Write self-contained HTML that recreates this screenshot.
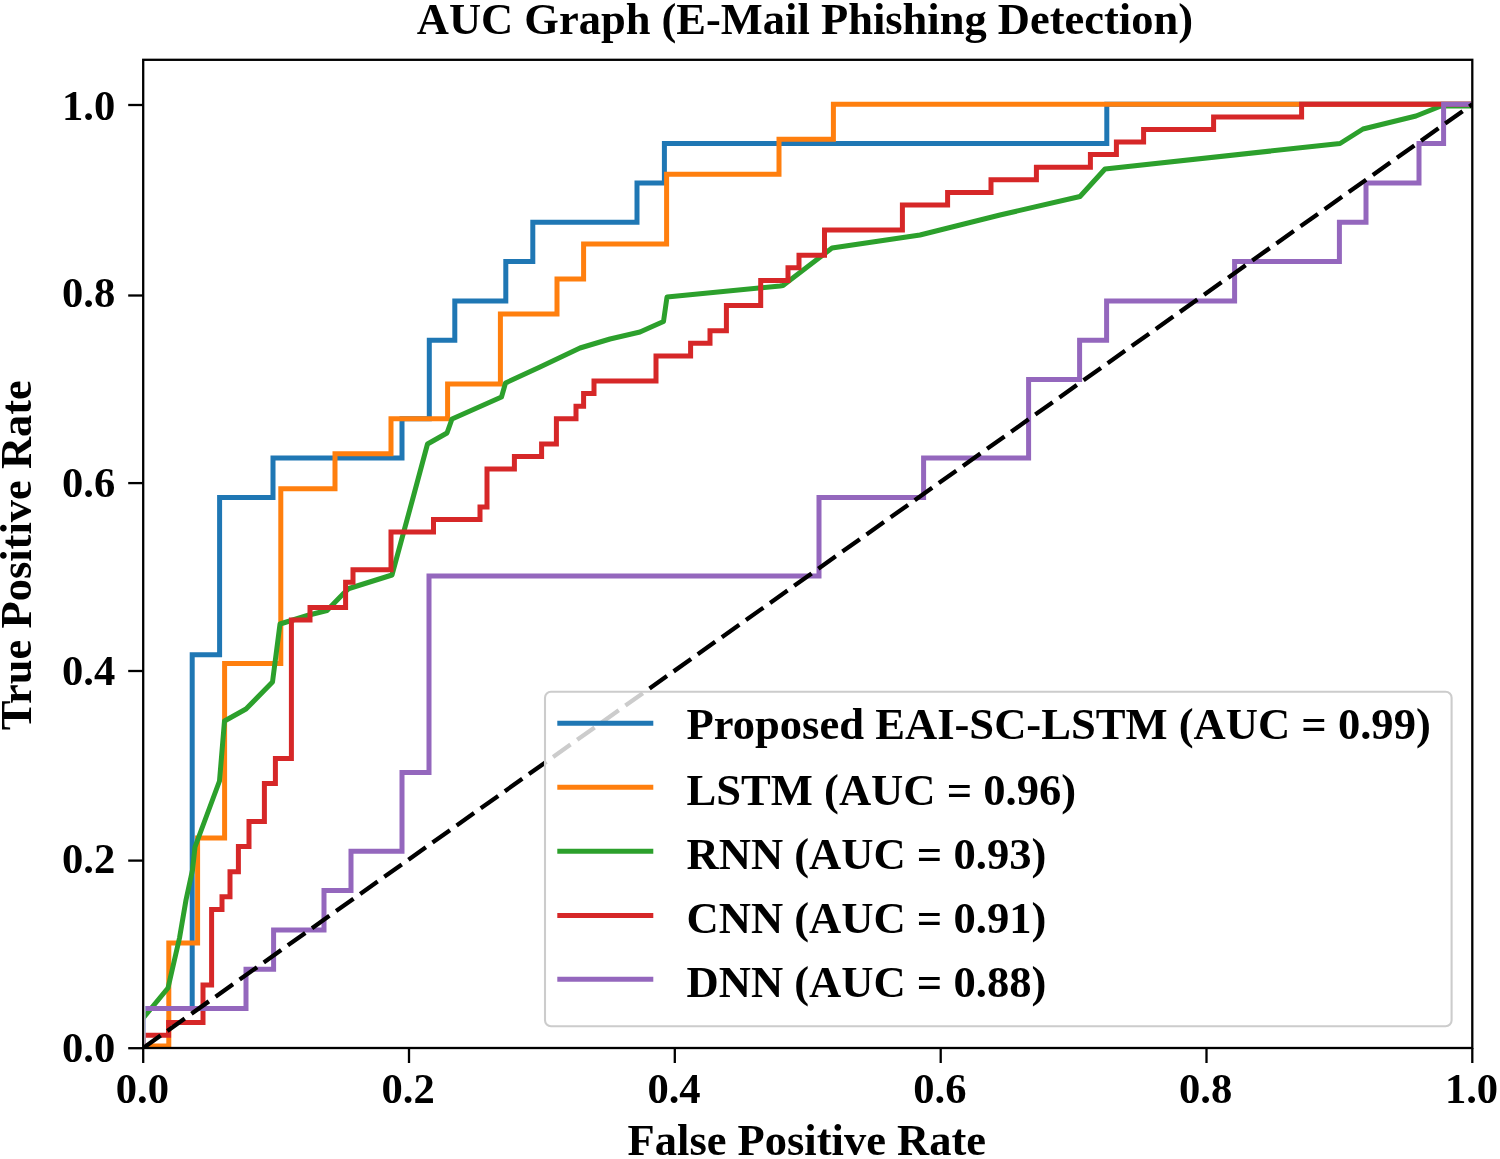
<!DOCTYPE html>
<html lang="en"><head><meta charset="utf-8"><title>AUC Graph (E-Mail Phishing Detection)</title>
<style>html,body{margin:0;padding:0;background:#fff}svg{display:block}</style></head>
<body>
<svg width="1500" height="1159" viewBox="0 0 1500 1159">
<rect width="1500" height="1159" fill="#fff"/>
<defs><clipPath id="ax"><rect x="145.6" y="59.8" width="1325.5" height="988.2"/></clipPath><clipPath id="ax0"><rect x="143.2" y="59.8" width="1329.1" height="988.2"/></clipPath></defs>
<g clip-path="url(#ax)" fill="none" stroke-width="5.0" stroke-linejoin="miter" stroke-linecap="square">
<path d="M143.2,1048.0 H143.2 V1008.5 H192.2 V654.7 H219.6 V497.4 H273.0 V458.1 H402.0 V418.8 H429.3 V340.2 H454.8 V300.9 H505.8 V261.5 H532.8 V222.2 H637.0 V182.9 H664.4 V143.6 H1106.8 V104.3 H1472.3" stroke="#1f77b4"/>
<path d="M143.2,1046.0 H168.8 V943.0 H197.6 V838.1 H224.6 V663.4 H280.8 V488.7 H335.0 V453.7 H391.0 V418.8 H447.6 V383.9 H500.4 V314.0 H557.0 V279.0 H583.6 V244.1 H666.6 V174.2 H779.0 V139.2 H833.4 V104.3 H1472.3" stroke="#ff7f0e"/>
<path d="M143.2,1018 L168,988 L179.5,938 L186,900 L192.5,870 L195,847 L219.5,781 L224.5,721 L246,709 L272.5,682 L280,624 L309,615 L327,610.5 L344,593 L349,588.5 L392,575 L413.5,496 L427.5,444 L447,433 L452,419 L501.5,397 L505.5,383 L540,367 L580,348 L610,339 L640,332 L650,327.5 L663.5,321.5 L667,297 L780,286 L783,285.5 L832,248 L920,235 L1000,215 L1080,196.5 L1105,169 L1340,143.5 L1363,129 L1416,116 L1441,106 L1472.3,106" stroke="#2ca02c" stroke-linejoin="round"/>
<path d="M143.2,1048.0 H143.2 V1035.2 H168.6 V1022.6 H203.0 V984.9 H211.6 V909.4 H222.0 V896.8 H230.0 V871.7 H238.4 V846.5 H249.0 V821.4 H264.4 V783.6 H275.4 V758.5 H291.4 V620.1 H310.0 V607.5 H345.6 V582.3 H353.0 V569.8 H391.0 V532.0 H433.5 V519.4 H480.0 V506.9 H487.0 V469.1 H514.4 V456.5 H541.6 V444.0 H556.4 V418.8 H576.0 V406.2 H583.6 V393.6 H594.0 V381.1 H656.0 V355.9 H690.6 V343.3 H710.0 V330.7 H726.4 V305.6 H760.7 V280.4 H788.0 V267.8 H799.0 V255.3 H824.5 V230.1 H902.4 V204.9 H947.6 V192.4 H991.0 V179.8 H1036.4 V167.2 H1090.4 V154.6 H1116.4 V142.0 H1143.6 V129.5 H1213.6 V116.9 H1301.6 V104.3 H1472.3" stroke="#d62728"/>
<path d="M143.2,1048.0 H143.2 V1008.5 H246.0 V969.2 H273.6 V929.9 H324.0 V890.5 H351.0 V851.2 H402.0 V772.6 H429.0 V576.0 H819.0 V497.4 H923.6 V458.1 H1028.6 V379.5 H1079.6 V340.2 H1106.6 V300.9 H1234.6 V261.5 H1339.4 V222.2 H1366.0 V182.9 H1419.0 V143.6 H1443.6 V104.3 H1472.3" stroke="#9467bd"/>
</g>
<path clip-path="url(#ax0)" d="M143.2,1048.0 L1472.3,104.3" fill="none" stroke="#000" stroke-linecap="butt" stroke-width="4.3" stroke-dasharray="21.4 8.17"/>
<rect x="143.2" y="59.8" width="1329.1" height="988.2" fill="none" stroke="#000" stroke-width="2.3"/>
<g stroke="#000" stroke-width="2.3">
<line x1="143.2" y1="1048.0" x2="143.2" y2="1063.0"/>
<line x1="143.2" y1="1048.2" x2="128.2" y2="1048.2"/>
<line x1="409.0" y1="1048.0" x2="409.0" y2="1063.0"/>
<line x1="143.2" y1="860.6" x2="128.2" y2="860.6"/>
<line x1="674.8" y1="1048.0" x2="674.8" y2="1063.0"/>
<line x1="143.2" y1="671.0" x2="128.2" y2="671.0"/>
<line x1="940.7" y1="1048.0" x2="940.7" y2="1063.0"/>
<line x1="143.2" y1="483.1" x2="128.2" y2="483.1"/>
<line x1="1206.5" y1="1048.0" x2="1206.5" y2="1063.0"/>
<line x1="143.2" y1="295.5" x2="128.2" y2="295.5"/>
<line x1="1472.3" y1="1048.0" x2="1472.3" y2="1063.0"/>
<line x1="143.2" y1="105.0" x2="128.2" y2="105.0"/>
</g>
<g font-family="'Liberation Serif', 'Times New Roman', serif" font-weight="bold" fill="#000">
<g font-size="42.6" text-anchor="middle">
<text x="142.4" y="1102.8">0.0</text>
<text x="408.2" y="1102.8">0.2</text>
<text x="674.0" y="1102.8">0.4</text>
<text x="939.9" y="1102.8">0.6</text>
<text x="1205.7" y="1102.8">0.8</text>
<text x="1471.5" y="1102.8">1.0</text>
</g>
<g font-size="42.6" text-anchor="end">
<text x="115.2" y="1062.3">0.0</text>
<text x="115.2" y="872.8">0.2</text>
<text x="115.2" y="684.5">0.4</text>
<text x="115.2" y="497.0">0.6</text>
<text x="115.2" y="307.0">0.8</text>
<text x="115.2" y="120.0">1.0</text>
</g>
<text x="804.9" y="34.2" font-size="44.5" text-anchor="middle">AUC Graph (E-Mail Phishing Detection)</text>
<text x="806.8" y="1154.7" font-size="44.5" text-anchor="middle">False Positive Rate</text>
<text transform="translate(31.3,555.2) rotate(-90)" font-size="44.5" text-anchor="middle">True Positive Rate</text>
</g>
<rect x="545" y="691.7" width="906.6" height="334.6" rx="6" ry="6" fill="#fff" fill-opacity="0.8" stroke="#ccc" stroke-width="2.1"/>
<g font-family="'Liberation Serif', 'Times New Roman', serif" font-weight="bold" font-size="44.6" fill="#000">
<line x1="557.3" y1="723.3" x2="653.3" y2="723.3" stroke="#1f77b4" stroke-width="5.0"/>
<text x="686.5" y="738.5">Proposed EAI-SC-LSTM (AUC = 0.99)</text>
<line x1="557.3" y1="787.3" x2="653.3" y2="787.3" stroke="#ff7f0e" stroke-width="5.0"/>
<text x="686.5" y="804.7">LSTM (AUC = 0.96)</text>
<line x1="557.3" y1="851.3" x2="653.3" y2="851.3" stroke="#2ca02c" stroke-width="5.0"/>
<text x="686.5" y="868.7">RNN (AUC = 0.93)</text>
<line x1="557.3" y1="915.6" x2="653.3" y2="915.6" stroke="#d62728" stroke-width="5.0"/>
<text x="686.5" y="933.0">CNN (AUC = 0.91)</text>
<line x1="557.3" y1="979.3" x2="653.3" y2="979.3" stroke="#9467bd" stroke-width="5.0"/>
<text x="686.5" y="996.7">DNN (AUC = 0.88)</text>
</g>
</svg>
</body></html>
